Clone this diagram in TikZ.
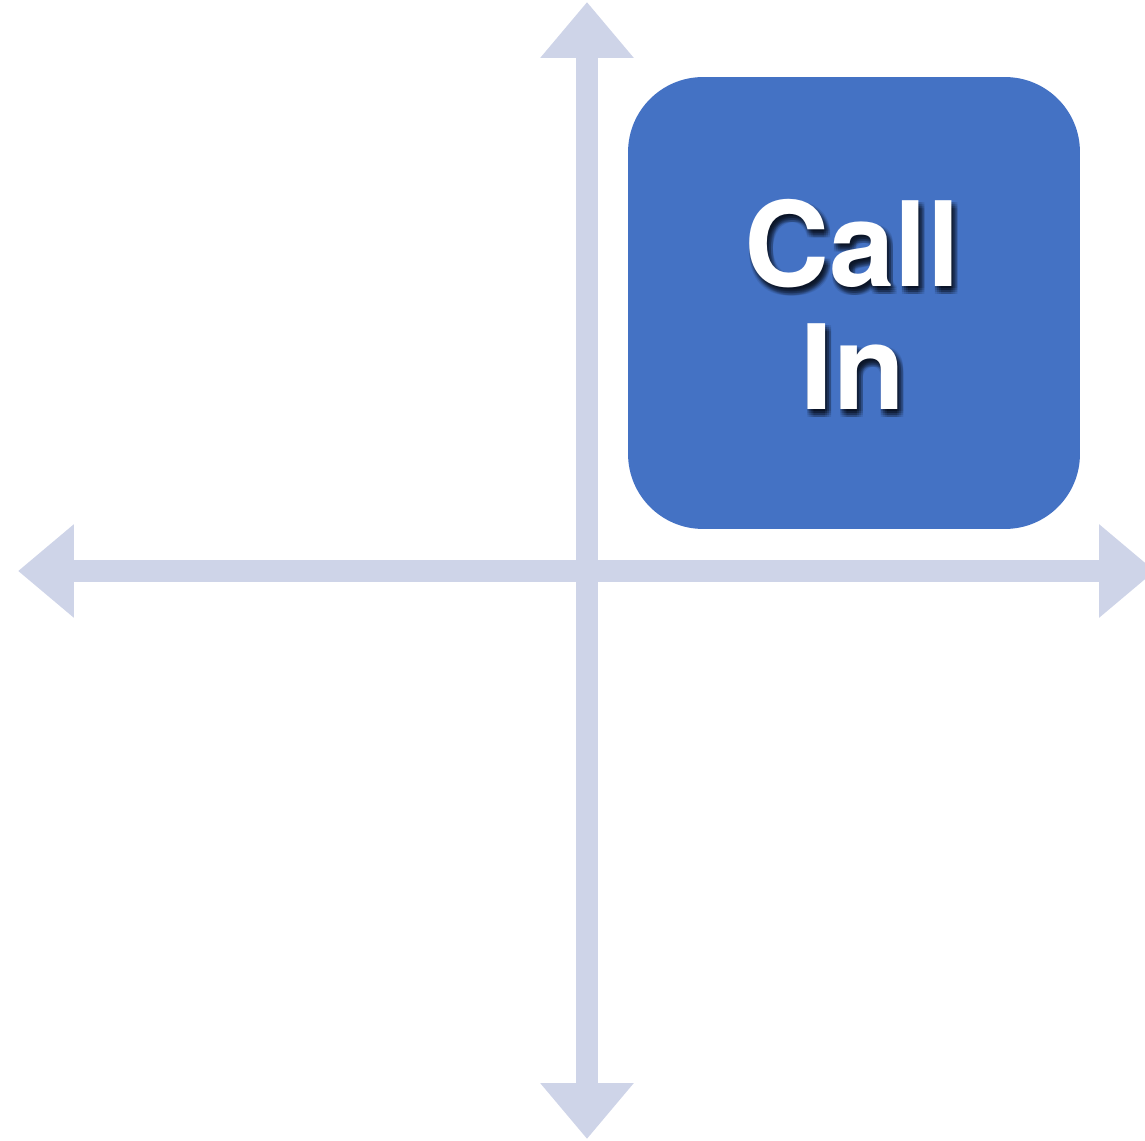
\documentclass[tikz,border=0pt]{standalone}
\usepackage{fontspec}
\usepackage{tikz}
\usetikzlibrary{arrows.meta}
\newfontfamily\headfont{TeX Gyre Heros}
\definecolor{axisblue}{RGB}{206,212,232}
\definecolor{boxblue}{RGB}{68,114,196}
\tikzset{
	axis/.style={line width=0.44cm, color=axisblue, {Triangle[length=1.12cm, width=1.8cm]}-{Triangle[length=1.12cm, width=1.8cm]}},
	quadbox/.style={fill=boxblue, rounded corners=1.5cm, minimum width=9.04cm, minimum height=9.04cm, inner sep=0pt},
	boxtext/.style={font=\headfont\bfseries\fontsize{67}{70}\selectfont, text=white, anchor=base, inner sep=0pt},
	boxshade/.style={boxtext, text=black, opacity=#1}
}

\begin{document}
\begin{tikzpicture}[x=0.02cm, y=-0.02cm]
		%%%%% START %%%%%
		\useasboundingbox (0, 0) rectangle (1145, 1141);
		
		\coordinate (top) at (587, 2);
		\coordinate (bottom) at (587, 1139);
		\coordinate (left) at (18, 571);
		\coordinate (right) at (1155, 571);
		
		\draw[axis] (bottom) -- (top);
		\draw[axis] (left) -- (right);
		
		\node[quadbox] (callin) at (854, 303) {};
		
		% soft shadow behind the text
		\foreach \dx in {1, 3, 5, 7} {
			\foreach \dy in {2, 4, 6, 8} {
				\node[boxshade=0.09] at (851+\dx, 287+\dy) {Call};
				\node[boxshade=0.09] at (852+\dx, 410+\dy) {In};
			}
		}
		\node[boxtext] (call) at (852, 287) {Call};
		\node[boxtext] (in) at (853, 410) {In};
		
		%%%%% END %%%%%
	\end{tikzpicture}
\end{document}
